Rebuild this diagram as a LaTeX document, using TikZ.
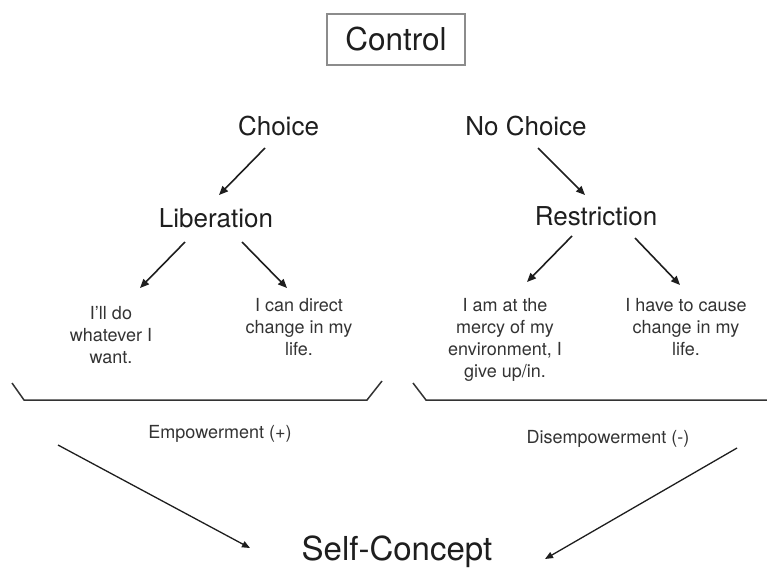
\documentclass[tikz,border=0pt]{standalone}
\usepackage{fontspec}
\setmainfont{TeX Gyre Heros}
\usetikzlibrary{arrows.meta}
\definecolor{ink}{HTML}{1E1E1E}
\definecolor{softink}{HTML}{333333}
\definecolor{boxgray}{HTML}{8C8C8C}
\begin{document}
\begin{tikzpicture}[x=1pt,y=-1pt,
  big/.style={font=\fontsize{31.5}{37}\selectfont, text=ink, inner sep=0pt},
  mid/.style={font=\fontsize{26}{31}\selectfont, text=ink, inner sep=0pt},
  small/.style={font=\fontsize{18}{22}\selectfont, text=softink, align=center, inner sep=0pt},
  arr/.style={draw=ink, line width=1.6pt, -{Triangle[length=9pt,width=7.5pt]}},
  arrthin/.style={draw=ink, line width=1.3pt, -{Triangle[length=8pt,width=6.5pt]}},
  brk/.style={draw=softink, line width=1.5pt, line join=miter}]
\useasboundingbox (0,0) rectangle (767,570);

% title box
\node[big, anchor=center, draw=boxgray, line width=2pt, minimum width=138pt, minimum height=51pt] (control) at (396,39.5) {};
\node[big, anchor=base] (controltxt) at (396,50) {Control};

% level 1
\node[mid, anchor=base] (choice) at (278.5,135) {Choice};
\node[mid, anchor=base] (nochoice) at (526,135) {No Choice};

% level 2
\node[mid, anchor=base] (lib) at (216,227) {Liberation};
\node[mid, anchor=base] (res) at (596,225) {Restriction};

% level 3
\node[small, anchor=north] (t1) at (111,306) {I'll do\\whatever I\\want.};
\node[small, anchor=north] (t2) at (299,298) {I can direct\\change in my\\life.};
\node[small, anchor=north] (t3) at (505,298) {I am at the\\mercy of my\\environment, I\\give up/in.};
\node[small, anchor=north] (t4) at (686,298) {I have to cause\\change in my\\life.};

% labels
\node[small, anchor=base] (emp) at (220,438) {Empowerment (+)};
\node[small, anchor=base] (disemp) at (608,443) {Disempowerment (-)};

% result
\node[big, font=\fontsize{33}{39}\selectfont, anchor=base] (self) at (397,560) {Self-Concept};

% connector end points
\coordinate (choice-out) at (265,148);
\coordinate (lib-in) at (219,195);
\coordinate (nochoice-out) at (538,148);
\coordinate (res-in) at (585,195);
\coordinate (lib-outl) at (185,242);
\coordinate (t1-in) at (140,288);
\coordinate (lib-outr) at (242,242);
\coordinate (t2-in) at (287,288);
\coordinate (res-outl) at (572,236);
\coordinate (t3-in) at (527,282);
\coordinate (res-outr) at (635,238);
\coordinate (t4-in) at (680,285);
\coordinate (emp-out) at (58,445);
\coordinate (self-inl) at (250,548);
\coordinate (disemp-out) at (737,448);
\coordinate (self-inr) at (545,559);

\draw[arr] (choice-out) -- (lib-in);
\draw[arr] (nochoice-out) -- (res-in);
\draw[arr] (lib-outl) -- (t1-in);
\draw[arr] (lib-outr) -- (t2-in);
\draw[arr] (res-outl) -- (t3-in);
\draw[arr] (res-outr) -- (t4-in);
\draw[arrthin] (emp-out) -- (self-inl);
\draw[arrthin] (disemp-out) -- (self-inr);

% brackets
\coordinate (bl1) at (12,383);
\coordinate (bl2) at (24,400);
\coordinate (bl3) at (367,400);
\coordinate (bl4) at (382,381);
\coordinate (br1) at (413,383);
\coordinate (br2) at (426,400);
\coordinate (br3) at (767,400);
\draw[brk] (bl1) -- (bl2) -- (bl3) -- (bl4);
\draw[brk] (br1) -- (br2) -- (br3);
\end{tikzpicture}
\end{document}
